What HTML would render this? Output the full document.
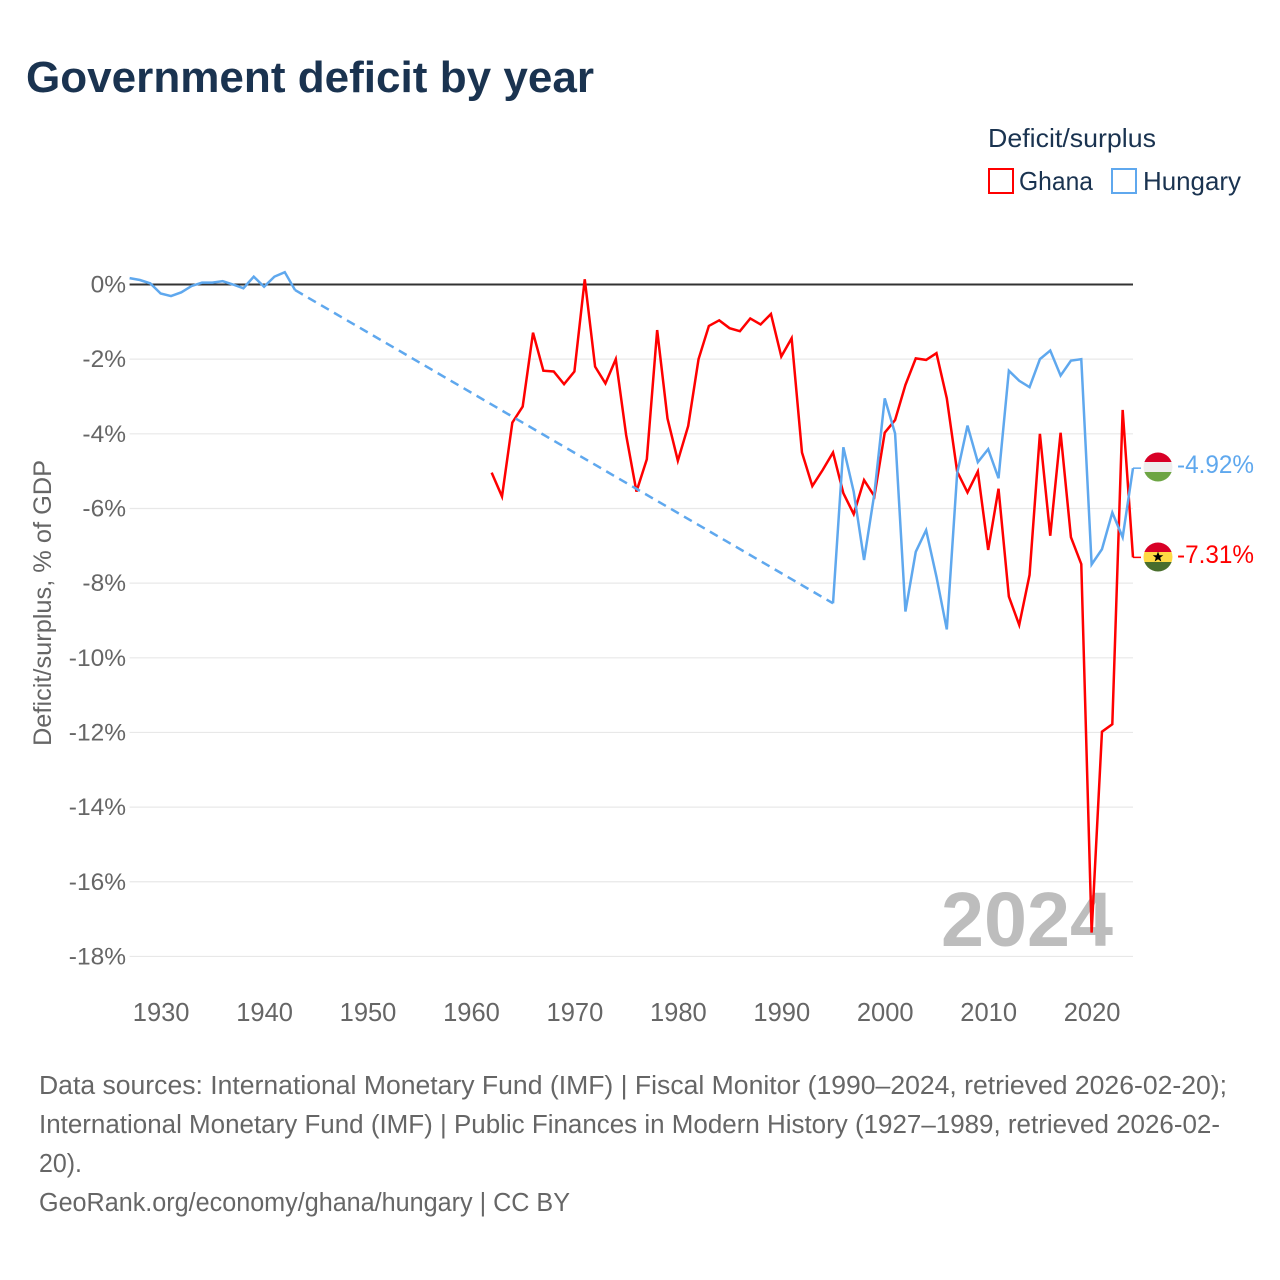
<!DOCTYPE html>
<html lang="en">
<head>
<meta charset="utf-8">
<title>Government deficit by year</title>
<style>
html,body{margin:0;padding:0;background:#fff}
svg{display:block}
text{font-family:"Liberation Sans",sans-serif}
</style>
</head>
<body>
<svg id="chart" width="1280" height="1280" viewBox="0 0 1280 1280" xmlns="http://www.w3.org/2000/svg">
  <defs>
    <clipPath id="flag-clip-hu"><circle cx="1158" cy="467" r="14.5"/></clipPath>
    <clipPath id="flag-clip-gh"><circle cx="1158" cy="557" r="14.5"/></clipPath>
  </defs>
  <rect width="1280" height="1280" fill="#fff"/>
  <text x="26" y="92" font-size="44" font-weight="700" fill="#1a3350" textLength="568" lengthAdjust="spacingAndGlyphs">Government deficit by year</text>

  <text x="988" y="147" font-size="26" fill="#1a3350" textLength="168" lengthAdjust="spacingAndGlyphs">Deficit/surplus</text>
  <rect x="989" y="169" width="24" height="24" fill="none" stroke="#ff0000" stroke-width="2"/>
  <text x="1019" y="190" font-size="26" fill="#1a3350" textLength="74" lengthAdjust="spacingAndGlyphs">Ghana</text>
  <rect x="1112" y="169" width="24" height="24" fill="none" stroke="#5fa8ee" stroke-width="2"/>
  <text x="1143" y="190" font-size="26" fill="#1a3350" textLength="98" lengthAdjust="spacingAndGlyphs">Hungary</text>

  <text transform="translate(51,746) rotate(-90)" font-size="25" fill="#666" textLength="286" lengthAdjust="spacingAndGlyphs">Deficit/surplus, % of GDP</text>

  <g id="grid"></g>
  <g id="y-ticks"></g>
  <g id="x-ticks"></g>

  <text x="941" y="946" font-size="77" font-weight="700" fill="#bdbdbd" textLength="172" lengthAdjust="spacingAndGlyphs">2024</text>

  <g id="series"></g>

  <g clip-path="url(#flag-clip-hu)">
    <rect x="1143" y="452" width="30" height="10" fill="#d80027"/>
    <rect x="1143" y="462" width="30" height="10" fill="#eeeeee"/>
    <rect x="1143" y="472" width="30" height="10" fill="#6da544"/>
  </g>
  <text x="1177" y="473" font-size="25" fill="#5fa8ee" textLength="77" lengthAdjust="spacingAndGlyphs">-4.92%</text>

  <g clip-path="url(#flag-clip-gh)">
    <rect x="1143" y="542" width="30" height="10" fill="#d80027"/>
    <rect x="1143" y="552" width="30" height="10" fill="#ffda44"/>
    <rect x="1143" y="562" width="30" height="10" fill="#496e2d"/>
    <polygon points="1158,551.5 1159.4,555.2 1163.3,555.2 1160.2,557.6 1161.3,561.5 1158,559.2 1154.7,561.5 1155.8,557.6 1152.7,555.2 1156.6,555.2" fill="#000"/>
  </g>
  <text x="1177" y="563" font-size="25" fill="#ff0000" textLength="77" lengthAdjust="spacingAndGlyphs">-7.31%</text>

  <g font-size="25.5" fill="#666">
    <text x="39" y="1094" textLength="1188" lengthAdjust="spacingAndGlyphs">Data sources: International Monetary Fund (IMF) | Fiscal Monitor (1990–2024, retrieved 2026-02-20);</text>
    <text x="39" y="1133" textLength="1181" lengthAdjust="spacingAndGlyphs">International Monetary Fund (IMF) | Public Finances in Modern History (1927–1989, retrieved 2026-02-</text>
    <text x="39" y="1172" textLength="43" lengthAdjust="spacingAndGlyphs">20).</text>
    <text x="39" y="1211" textLength="531" lengthAdjust="spacingAndGlyphs">GeoRank.org/economy/ghana/hungary | CC BY</text>
  </g>
</svg>
<script>
const yTickValues = [0, -2, -4, -6, -8, -10, -12, -14, -16, -18];
const yTickLabels = ["0%", "-2%", "-4%", "-6%", "-8%", "-10%", "-12%", "-14%", "-16%", "-18%"];
const xTickYears = [1930, 1940, 1950, 1960, 1970, 1980, 1990, 2000, 2010, 2020];

const ghanaYears = [1962,1963,1964,1965,1966,1967,1968,1969,1970,1971,1972,1973,1974,1975,1976,1977,1978,1979,1980,1981,1982,1983,1984,1985,1986,1987,1988,1989,1990,1991,1992,1993,1994,1995,1996,1997,1998,1999,2000,2001,2002,2003,2004,2005,2006,2007,2008,2009,2010,2011,2012,2013,2014,2015,2016,2017,2018,2019,2020,2021,2022,2023,2024];
const ghanaValues = [-5.04,-5.68,-3.70,-3.27,-1.29,-2.31,-2.33,-2.67,-2.33,0.14,-2.20,-2.65,-2.00,-4.03,-5.55,-4.68,-1.22,-3.59,-4.72,-3.79,-2.00,-1.11,-0.96,-1.17,-1.25,-0.91,-1.07,-0.79,-1.93,-1.44,-4.50,-5.40,-4.97,-4.50,-5.59,-6.15,-5.24,-5.67,-3.97,-3.63,-2.69,-1.98,-2.02,-1.84,-3.05,-5.01,-5.57,-5.01,-7.11,-5.47,-8.36,-9.12,-7.78,-4.00,-6.73,-3.97,-6.77,-7.49,-17.36,-11.98,-11.78,-3.36,-7.31];

const hungaryYears = [1927,1928,1929,1930,1931,1932,1933,1934,1935,1936,1937,1938,1939,1940,1941,1942,1943,1995,1996,1997,1998,1999,2000,2001,2002,2003,2004,2005,2006,2007,2008,2009,2010,2011,2012,2013,2014,2015,2016,2017,2018,2019,2020,2021,2022,2023,2024];
const hungaryValues = [0.17,0.12,0.03,-0.24,-0.31,-0.21,-0.04,0.05,0.05,0.09,0,-0.10,0.21,-0.06,0.21,0.33,-0.15,-8.54,-4.36,-5.55,-7.38,-5.60,-3.05,-3.99,-8.76,-7.16,-6.58,-7.83,-9.24,-5.06,-3.78,-4.76,-4.41,-5.19,-2.31,-2.58,-2.75,-2.00,-1.77,-2.44,-2.04,-2.00,-7.50,-7.09,-6.11,-6.77,-4.92];

const SVG_NS = "http://www.w3.org/2000/svg";
const plotLeft = 129.6, plotRight = 1133;
function xScale(year) { return plotLeft + (year - 1927) * (plotRight - plotLeft) / 97; }
function yScale(value) { return 284.5 - value * 37.33; }

const grid = document.getElementById("grid");
const yTicks = document.getElementById("y-ticks");
const xTicks = document.getElementById("x-ticks");
const seriesGroup = document.getElementById("series");

yTickValues.forEach(function (v, i) {
  if (v !== 0) {
    const line = document.createElementNS(SVG_NS, "line");
    
    
    line.setAttribute("x1", plotLeft);
    line.setAttribute("x2", plotRight);
    line.setAttribute("y1", yScale(v));
    line.setAttribute("y2", yScale(v));
    line.setAttribute("stroke", "#e8e8e8");
    line.setAttribute("stroke-width", "1.2");
    grid.appendChild(line);
  }
  const label = document.createElementNS(SVG_NS, "text");
  
  
  label.setAttribute("x", 126);
  label.setAttribute("y", yScale(v) + 8);
  label.setAttribute("text-anchor", "end");
  label.setAttribute("font-size", "24.5");
  label.setAttribute("fill", "#666");
  label.textContent = yTickLabels[i];
  yTicks.appendChild(label);
});

xTickYears.forEach(function (year) {
  const label = document.createElementNS(SVG_NS, "text");
  
  
  label.setAttribute("x", xScale(year) + 0.5);
  label.setAttribute("y", 1021);
  label.setAttribute("text-anchor", "middle");
  label.setAttribute("font-size", "25.5");
  label.setAttribute("fill", "#666");
  label.textContent = String(year);
  xTicks.appendChild(label);
});

function drawSeries(years, values, color, name) {
  let run = [];
  function flush() {
    if (run.length > 1) {
      const solid = document.createElementNS(SVG_NS, "polyline");
      
      
      solid.setAttribute("data-series", name);
      solid.setAttribute("points", run.join(" "));
      solid.setAttribute("fill", "none");
      solid.setAttribute("stroke", color);
      solid.setAttribute("stroke-width", "2.5");
      solid.setAttribute("stroke-linejoin", "miter");
      seriesGroup.appendChild(solid);
    }
    run = [];
  }
  years.forEach(function (year, i) {
    const px = xScale(year), py = yScale(values[i]);
    if (i > 0 && year - years[i - 1] > 1) {
      flush();
      const gap = document.createElementNS(SVG_NS, "line");
      
      
      gap.setAttribute("data-series", name);
      gap.setAttribute("x1", xScale(years[i - 1]));
      gap.setAttribute("y1", yScale(values[i - 1]));
      gap.setAttribute("x2", px);
      gap.setAttribute("y2", py);
      gap.setAttribute("stroke", color);
      gap.setAttribute("stroke-width", "2.5");
      gap.setAttribute("stroke-dasharray", "9 6");
      seriesGroup.appendChild(gap);
    }
    run.push(px + "," + py);
  });
  flush();
  const lastY = yScale(values[values.length - 1]);
  const connector = document.createElementNS(SVG_NS, "line");
  
  
  connector.setAttribute("x1", plotRight);
  connector.setAttribute("x2", 1141);
  connector.setAttribute("y1", lastY);
  connector.setAttribute("y2", lastY);
  connector.setAttribute("stroke", color);
  connector.setAttribute("stroke-width", "1.5");
  seriesGroup.appendChild(connector);
}

drawSeries(ghanaYears, ghanaValues, "#ff0000", "ghana");
drawSeries(hungaryYears, hungaryValues, "#5fa8ee", "hungary");

const zero = document.createElementNS(SVG_NS, "line");


zero.setAttribute("x1", plotLeft);
zero.setAttribute("x2", plotRight);
zero.setAttribute("y1", yScale(0));
zero.setAttribute("y2", yScale(0));
zero.setAttribute("stroke", "#333");
zero.setAttribute("stroke-width", "2");
seriesGroup.insertBefore(zero, seriesGroup.firstChild);
</script>
</body>
</html>
